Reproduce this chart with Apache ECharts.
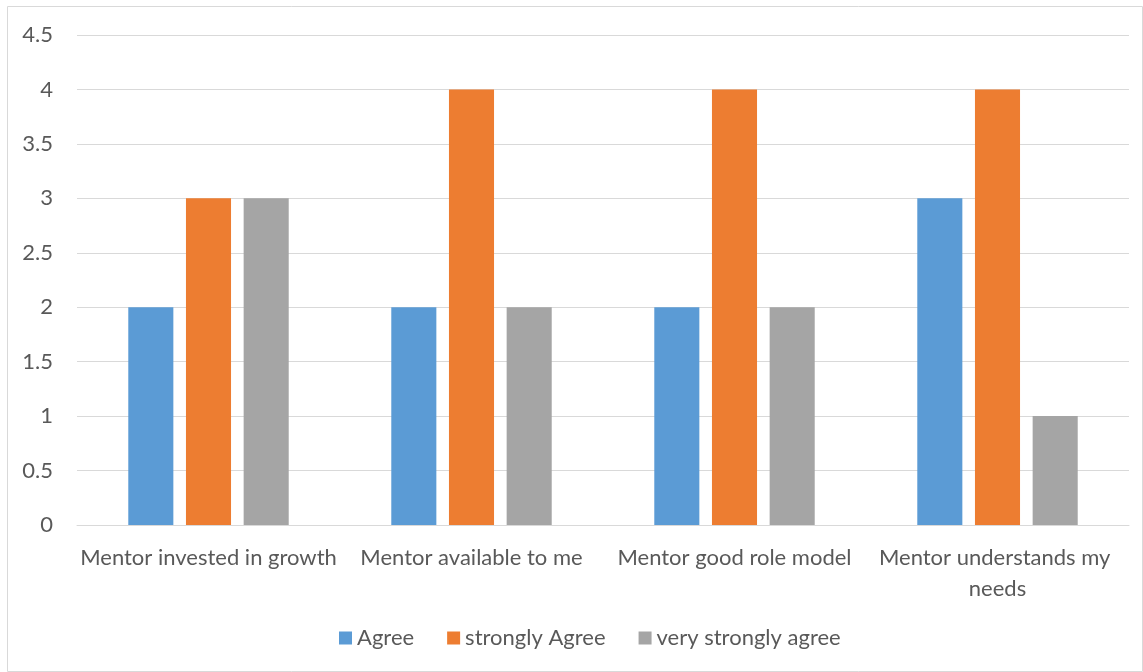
<!DOCTYPE html>
<html>
<head>
<meta charset="utf-8">
<script src="https://cdn.jsdelivr.net/npm/echarts@6/dist/echarts.min.js"></script>
<style>
  html, body { margin: 0; padding: 0; background: #fff; }
  #chart { width: 1143px; height: 672px; }
</style>
</head>
<body>
<div id="chart"></div>
<script>
// Survey responses per mentor statement
const categories = [
  'Mentor invested in growth',
  'Mentor available to me',
  'Mentor good role model',
  'Mentor understands my needs'
];
const agree = [2, 2, 2, 3];
const stronglyAgree = [3, 4, 4, 4];
const veryStronglyAgree = [3, 2, 2, 1];
const seriesNames = ['Agree', 'strongly Agree', 'very strongly agree'];
const seriesColors = ['#5b9bd5', '#ed7d31', '#a5a5a5'];

const FONT = 'Lato';
const TEXT = '#595959';
const GRID = '#d9d9d9';

const chart = echarts.init(document.getElementById('chart'), null, { renderer: 'canvas' });

const values = [agree, stronglyAgree, veryStronglyAgree];

chart.setOption({
  animation: false,
  textStyle: { fontFamily: FONT },
  graphic: [{
    type: 'rect',
    shape: { x: 7.5, y: 6.5, width: 1135, height: 665 },
    style: { fill: 'none', stroke: GRID, lineWidth: 1 },
    silent: true,
    z: -10
  }],
  grid: { left: 77, right: 14, top: 35, bottom: 147, containLabel: false },
  legend: {
    bottom: 18,
    left: 334,
    itemWidth: 13,
    itemHeight: 13,
    itemGap: 33,
    icon: 'rect',
    textStyle: { color: TEXT, fontSize: 22, fontFamily: FONT },
    data: seriesNames
  },
  xAxis: {
    type: 'category',
    data: categories,
    axisLine: { show: true, lineStyle: { color: GRID, width: 1 } },
    axisTick: { show: false },
    axisLabel: {
      color: TEXT,
      fontSize: 22,
      fontFamily: FONT,
      margin: 17,
      interval: 0,
      width: 263,
      overflow: 'break',
      lineHeight: 31
    }
  },
  yAxis: {
    type: 'value',
    min: 0,
    max: 4.5,
    interval: 0.5,
    axisLine: { show: false },
    axisTick: { show: false },
    splitLine: { lineStyle: { color: GRID, width: 1 } },
    axisLabel: { color: TEXT, fontSize: 22, fontFamily: FONT, margin: 24 }
  },
  series: seriesNames.map((name, i) => ({
    name,
    type: 'bar',
    data: values[i],
    barGap: '28%',
    barCategoryGap: '39%',
    itemStyle: { color: seriesColors[i] }
  }))
});
</script>
</body>
</html>
